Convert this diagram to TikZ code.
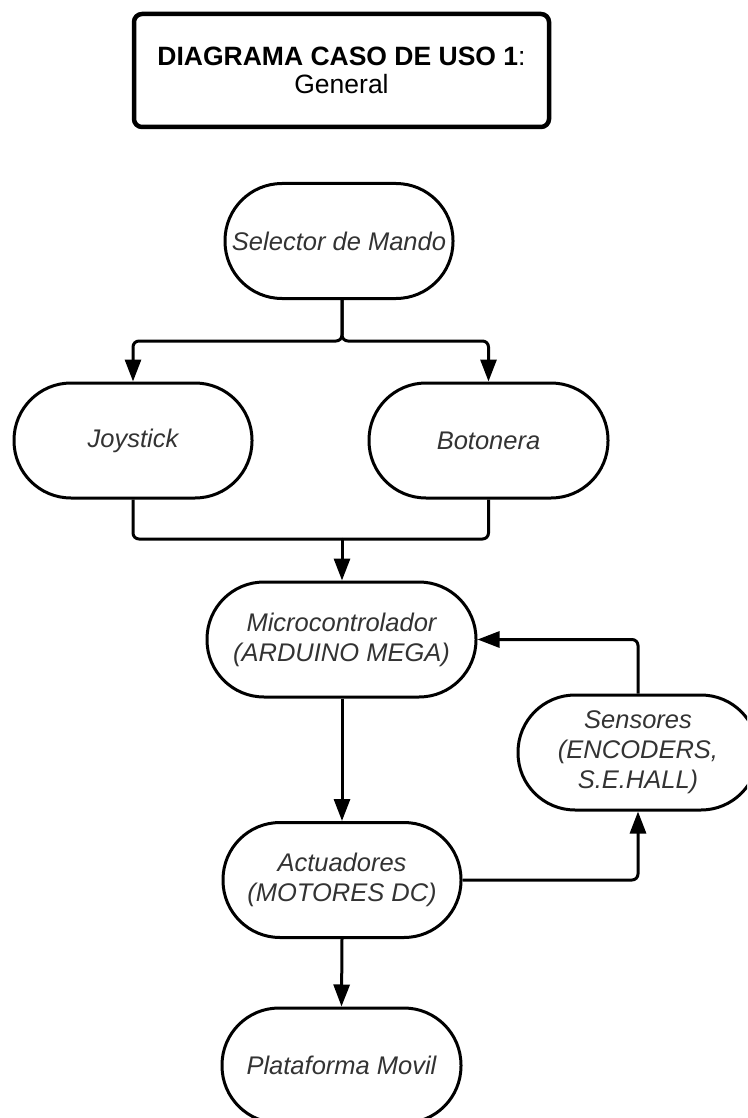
\documentclass[tikz,border=0pt]{standalone}
\usepackage{fontspec}
\setmainfont{Liberation Sans}
\usetikzlibrary{arrows.meta}
\definecolor{txt}{HTML}{333333}
\tikzset{
  stad/.style={draw=black, line width=3pt, fill=white, rounded corners=57pt,
    minimum height=115pt, align=center, text=txt,
    font=\fontsize{25.5}{30}\selectfont\itshape, inner sep=0pt},
  conn/.style={draw=black, line width=3pt, rounded corners=6pt},
  arr/.style={conn, -{Triangle[width=16pt,length=22pt]}},
  titlebox/.style={draw=black, line width=4.5pt, rounded corners=8pt, align=center,
    minimum width=415pt, minimum height=113pt, text=black,
    font=\fontsize{26.5}{28}\selectfont, inner sep=0pt}
}
\begin{document}
\begin{tikzpicture}[x=1pt,y=-1pt]
\useasboundingbox (0,0) rectangle (747,1118);
\begin{scope}
\clip (0,0) rectangle (747,1118);
\node[titlebox] (title) at (341.5,70.5) {\textbf{DIAGRAMA CASO DE USO 1}:\\General};
\node[stad, minimum width=228pt] (sel) at (339,241) {Selector de Mando};
\node[stad, minimum width=238pt] (joy) at (133,440.5) {Joystick};
\node[stad, minimum width=239pt] (bot) at (488.5,440.5) {Botonera};
\node[stad, minimum width=269pt] (mic) at (341.5,639.5) {Microcontrolador\\(ARDUINO MEGA)};
\node[stad, minimum width=238pt] (act) at (342,880) {Actuadores\\(MOTORES DC)};
\node[stad, minimum width=239pt] (pla) at (341.5,1065.5) {Plataforma Movil};
\node[stad, minimum width=240pt] (sen) at (638,752.5) {Sensores\\(ENCODERS,\\S.E.HALL)};

\coordinate (split) at (342,341);
\coordinate (merge) at (342,539);
\draw[arr] (sel.south -| split) -- (split) -| (joy.north);
\draw[arr] (sel.south -| split) -- (split) -| (bot.north);
\draw[conn] (joy.south) |- (merge);
\draw[conn] (bot.south) |- (merge);
\draw[arr] (merge) -- (mic.north -| merge);
\draw[arr] (mic.south -| act.north) -- (act.north);
\draw[arr] (act.south) -- (pla.north);
\draw[arr] (sen.north) |- (mic.east);
\draw[arr] (act.east) -| (sen.south);
\end{scope}
\end{tikzpicture}
\end{document}
